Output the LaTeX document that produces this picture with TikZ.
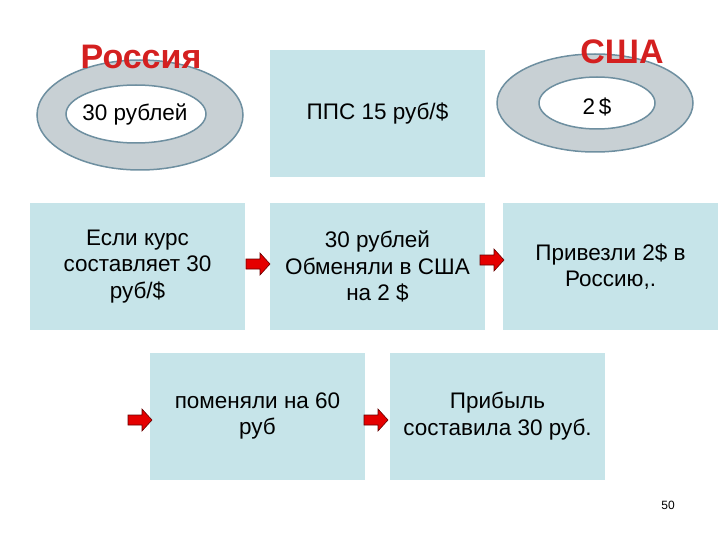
\documentclass[tikz,border=0pt]{standalone}
\usepackage{fontspec}
\setmainfont{Liberation Sans}
\definecolor{boxc}{HTML}{C6E4E9}
\definecolor{ringc}{HTML}{C8D0D4}
\definecolor{ringl}{HTML}{6E8FA0}
\definecolor{titc}{HTML}{D42020}
\tikzset{
 box/.style={fill=boxc,draw=none,minimum width=215pt,minimum height=127pt,align=center,font=\fontsize{22.5}{26.5}\selectfont,inner sep=0pt},
 ttl/.style={font=\fontsize{34}{36}\selectfont\bfseries,text=titc},
 ring/.style={fill=ringc,draw=ringl,line width=1.5pt},
 hole/.style={fill=white,draw=ringl,line width=1.5pt},
 lbl/.style={font=\fontsize{22.5}{26}\selectfont},
 blockarrow/.pic={\draw[fill=red!90!black,draw=red!40!black,line width=0.6pt]
   (-12,-5) -- (2,-5) -- (2,-11) -- (12,0) -- (2,11) -- (2,5) -- (-12,5) -- cycle;}
}
\begin{document}
\begin{tikzpicture}[x=1pt,y=-1pt]
\useasboundingbox (0,0) rectangle (720,540);
\draw[ring] (140,115) ellipse [x radius=103,y radius=55];
\draw[ring] (595,103) ellipse [x radius=98,y radius=49];
\draw[hole] (597,103) ellipse [x radius=58,y radius=26];
\node[ttl] (ru) at (141,57) {Россия};
\node[ttl] (us) at (622,52) {США};
\draw[hole] (136,114) ellipse [x radius=70,y radius=29];
\node[lbl] (r30) at (135,114) {30 рублей};
\node[lbl] (u2) at (597,107) {2\,\$};
\node[box] (b1) at (377.5,114) {ППС 15 руб/\$};
\node[box] (b2) at (137.5,266.5) {Если курс\\составляет 30\\руб/\$};
\node[box] (b3) at (377.5,266.5) {30 рублей\\Обменяли в США\\на 2 \$};
\node[box] (b4) at (610.5,266.5) {Привезли 2\$ в\\Россию,.};
\node[box] (b5) at (257.5,416) {поменяли на 60\\руб};
\node[box] (b6) at (497.5,416) {Прибыль\\составила 30 руб.};
\pic at (258,264) {blockarrow};
\pic at (492,260) {blockarrow};
\pic at (140,420) {blockarrow};
\pic at (376,420) {blockarrow};
\node[font=\fontsize{12}{14}\selectfont] (pg) at (668,505) {50};
\end{tikzpicture}
\end{document}
